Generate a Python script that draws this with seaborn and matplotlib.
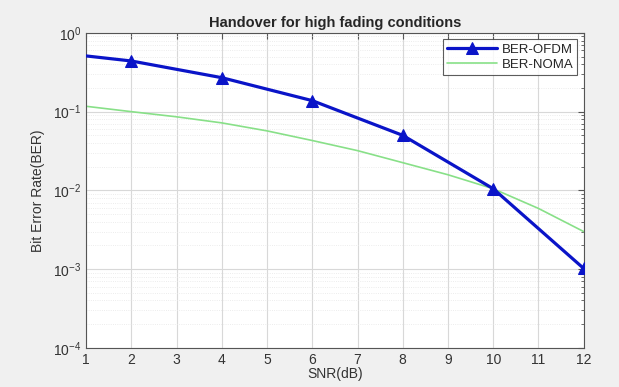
import numpy as np
import pandas as pd
import matplotlib
matplotlib.use("Agg")
import matplotlib.pyplot as plt
import seaborn as sns

# values
snr_ofdm = [1, 2, 4, 6, 8, 10, 12]
ber_ofdm = [0.51, 0.44, 0.27, 0.138, 0.050, 0.0105, 0.00102]
snr_noma = [1, 2, 3, 4, 5, 6, 7, 8, 9, 10, 11, 12]
ber_noma = [0.117, 0.100, 0.086, 0.072, 0.057, 0.043, 0.032, 0.0225, 0.0158, 0.0105, 0.0059, 0.0030]

x_ticks = list(range(1, 13))
y_limits = (1e-4, 1)

sns.set_style("white")
plt.rcParams['font.family'] = ['Liberation Sans', 'DejaVu Sans']

fig = plt.figure(figsize=(6.19, 3.87), dpi=100, facecolor='#f0f0f0')
ax = fig.add_axes([0.139, 0.101, 0.804, 0.814])
ax.set_facecolor('white')

df_ofdm = pd.DataFrame({'snr': snr_ofdm, 'ber': ber_ofdm})
df_noma = pd.DataFrame({'snr': snr_noma, 'ber': ber_noma})

# first point (x=1) has no marker in the original
sns.lineplot(data=df_ofdm, x='snr', y='ber', ax=ax, color='#0a14c8', linewidth=2.3,
             marker='^', markersize=8, markeredgecolor='#0a14c8',
             markevery=list(range(1, len(snr_ofdm))), label='BER-OFDM', zorder=3)
sns.lineplot(data=df_noma, x='snr', y='ber', ax=ax, color='#88e088', linewidth=1.2,
             label='BER-NOMA', zorder=2)

ax.set_yscale('log')
ax.set_xlim(1, 12)
ax.set_ylim(*y_limits)
ax.set_xticks(x_ticks)
ax.set_yticks([1e-4, 1e-3, 1e-2, 1e-1, 1])

ax.grid(True, which='major', color='#d8d8d8', linewidth=0.8)
ax.grid(True, which='minor', axis='y', color='#e6e6e6', linewidth=0.6, linestyle=':')
ax.tick_params(which='both', direction='in', top=True, right=True, colors='#555555',
               labelcolor='#333333', labelsize=10)
ax.tick_params(which='major', length=4)
ax.tick_params(which='minor', length=2)
for s in ax.spines.values():
    s.set_color('#555555')
    s.set_linewidth(0.8)

ax.set_title('Handover for high fading conditions', fontsize=10.5, fontweight='bold', pad=4)
ax.set_xlabel('SNR(dB)', fontsize=10, color='#333333', labelpad=0)
ax.set_ylabel('Bit Error Rate(BER)', fontsize=10, color='#333333', labelpad=6)

leg = ax.legend(loc='upper right', fontsize=9.5, frameon=True, fancybox=False,
                handlelength=3.8, borderpad=0.3, labelspacing=0.2, handletextpad=0.3)
leg.get_frame().set_edgecolor('#333333')
leg.get_frame().set_linewidth(0.8)

fig.savefig('out.png', dpi=100, facecolor=fig.get_facecolor())
